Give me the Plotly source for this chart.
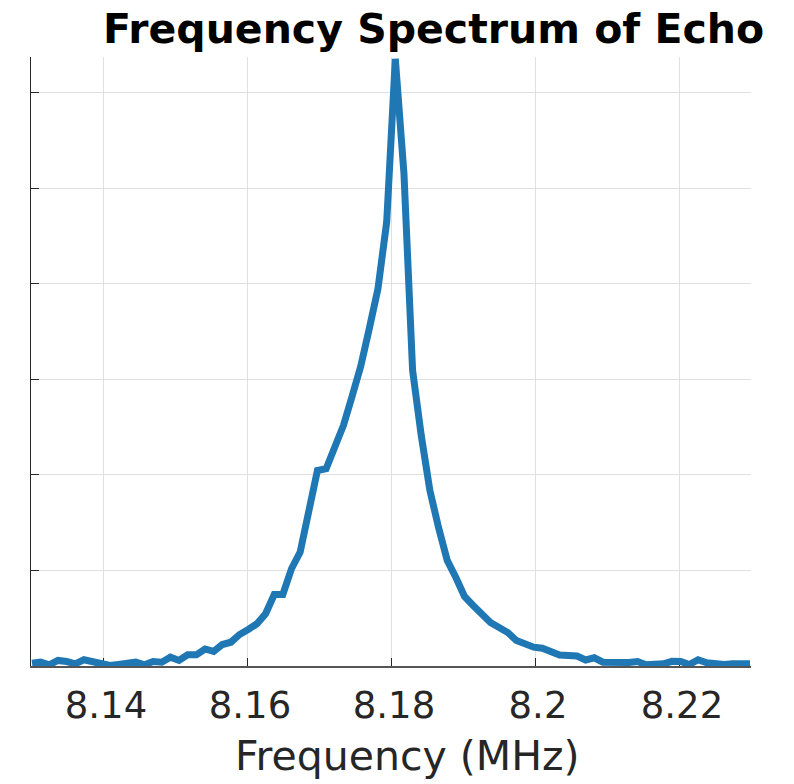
import plotly.graph_objects as go

# Frequency samples (MHz)
freq_mhz = [
    8.13014, 8.13134, 8.13254, 8.13374, 8.13495, 8.13615, 8.13735, 8.13855, 8.13975, 8.14095,
    8.14215, 8.14335, 8.14456, 8.14576, 8.14696, 8.14816, 8.14936, 8.15056, 8.15176, 8.15297,
    8.15417, 8.15537, 8.15657, 8.15777, 8.15897, 8.16017, 8.16138, 8.16258, 8.16378, 8.16498,
    8.16618, 8.16738, 8.16858, 8.16978, 8.17099, 8.17219, 8.17339, 8.17459, 8.17579, 8.17699,
    8.17819, 8.17940, 8.18060, 8.18180, 8.18300, 8.18420, 8.18540, 8.18660, 8.18781, 8.18901,
    8.19021, 8.19141, 8.19261, 8.19381, 8.19501, 8.19622, 8.19742, 8.19862, 8.19982, 8.20102,
    8.20222, 8.20342, 8.20463, 8.20583, 8.20703, 8.20823, 8.20943, 8.21063, 8.21183, 8.21303,
    8.21424, 8.21544, 8.21664, 8.21784, 8.21904, 8.22024, 8.22144, 8.22265, 8.22385, 8.22505,
    8.22625, 8.22745, 8.22865, 8.22986,
]

# Spectrum magnitude (arbitrary units)
magnitude = [
    0.029, 0.040, 0.013, 0.058, 0.047, 0.023, 0.065, 0.040, 0.029, 0.005,
    0.016, 0.023, 0.040, 0.013, 0.047, 0.040, 0.092, 0.058, 0.117, 0.117,
    0.178, 0.152, 0.225, 0.249, 0.330, 0.382, 0.442, 0.547, 0.749, 0.749,
    1.018, 1.192, 1.618, 2.047, 2.065, 2.288, 2.518, 2.822, 3.136, 3.534,
    3.950, 4.647, 6.356, 5.154, 3.094, 2.414, 1.838, 1.450, 1.105, 0.927,
    0.728, 0.634, 0.539, 0.455, 0.403, 0.351, 0.267, 0.230, 0.197, 0.186,
    0.155, 0.115, 0.110, 0.105, 0.063, 0.086, 0.040, 0.034, 0.029, 0.037,
    0.047, 0.013, 0.018, 0.023, 0.049, 0.047, 0.016, 0.065, 0.034, 0.019,
    0.016, 0.023, 0.023, 0.023,
]

x_tick_vals = [8.14, 8.16, 8.18, 8.2, 8.22]
x_tick_text = ["8.14", "8.16", "8.18", "8.2", "8.22"]
y_tick_vals = [0, 1, 2, 3, 4, 5, 6]

title_text = "Frequency Spectrum of Echo"
x_title = "Frequency (MHz)"

FONT = "DejaVu Sans"
AX = "#262626"

W, H = 794, 784
L, R, T, B = 31, 43, 57, 118
PLOT_W = W - L - R

fig = go.Figure()
fig.add_trace(go.Scatter(
    x=freq_mhz, y=magnitude, mode="lines",
    line=dict(color="#1f77b4", width=7),
    showlegend=False, hoverinfo="skip",
))

fig.update_layout(
    width=W, height=H,
    margin=dict(l=L, r=R, t=T, b=B, autoexpand=False),
    paper_bgcolor="white", plot_bgcolor="white",
    title=dict(
        text=title_text,
        font=dict(family=FONT, size=41, color="black", weight="bold"),
        xref="container", yref="container",
        x=433.5 / W, xanchor="center",
        y=1 - 29 / H, yanchor="middle",
    ),
    font=dict(family=FONT, color=AX),
    annotations=[dict(
        text=x_title, showarrow=False,
        xref="paper", yref="paper",
        x=(407.5 - L) / PLOT_W, y=0,
        xanchor="center", yanchor="middle", yshift=-90,
        font=dict(family=FONT, size=41, color=AX),
    )],
)

fig.update_xaxes(
    range=[8.13, 8.23],
    tickvals=x_tick_vals, ticktext=x_tick_text,
    ticks="inside", ticklen=8, tickwidth=1, tickcolor=AX,
    tickfont=dict(family=FONT, size=37, color=AX),
    ticklabelstandoff=6, ticklabelshift=3,
    showline=True, linecolor="#555555", linewidth=1.5,
    showgrid=True, gridcolor="#e0e0e0", gridwidth=1,
    zeroline=False, layer="below traces", automargin=False,
)
fig.update_yaxes(
    range=[0, 6.375],
    tickvals=y_tick_vals, showticklabels=False,
    ticks="inside", ticklen=8, tickwidth=1, tickcolor=AX,
    showline=True, linecolor=AX, linewidth=1,
    showgrid=True, gridcolor="#e0e0e0", gridwidth=1,
    zeroline=False, layer="below traces", automargin=False,
)

# Remove the browser's default 8 px body margin so the figure fills the window.
fig.write_html(
    "out.html",
    config={"displayModeBar": False},
    post_script="document.body.style.margin='0';",
)
